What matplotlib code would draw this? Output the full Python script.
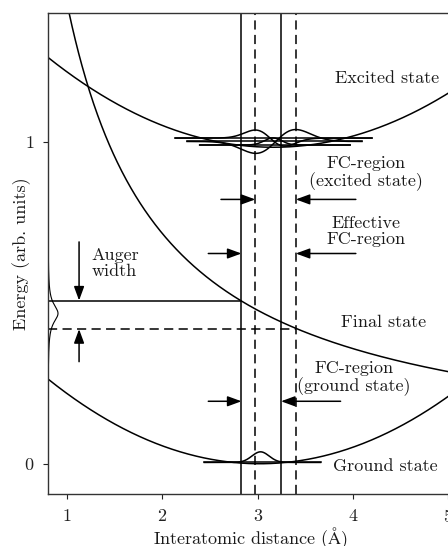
import numpy as np
import matplotlib
matplotlib.use("Agg")
import matplotlib.pyplot as plt

plt.rcParams['font.family'] = ['cmr10', 'DejaVu Serif']
plt.rcParams['mathtext.fontset'] = 'cm'
plt.rcParams['axes.formatter.use_mathtext'] = True

# ---- values ----
x_ticks = [1, 2, 3, 4, 5]
y_ticks = [0, 1]

# potential curves: (position of minimum, energy of minimum, curvature)
ground_curve = [3.02, 0.0, 0.0534]
excited_curve = [3.165, 0.983, 0.0499]
final_curve_coef = 1.43            # final state ~ coef / r

# vibrational levels: energy, x start, x end
ground_level = [0.004, 2.44, 3.66]
excited_levels_e = [1.0115, 1.001, 0.990]
excited_levels_x0 = [2.136, 2.259, 2.391]
excited_levels_x1 = [4.199, 4.094, 3.971]
# wavefunction shapes: centre, width, amplitude, kind
excited_wf_c = [3.13, 3.19, 3.16]
excited_wf_w = [0.155, 0.21, 0.09]
excited_wf_a = [-0.025, 0.037, 0.022]
excited_wf_kind = ['odd', 'odd', 'even']
ground_wf = [3.03, 0.09, 0.033]     # centre, width, amplitude

# Franck-Condon boundaries
fc_ground = [2.83, 3.245]          # solid
fc_excited = [2.975, 3.40]         # dashed

# Auger width
auger_upper = 0.507
auger_lower = 0.418
auger_profile = [0.467, 0.034, 0.105]   # centre, half width, height

# ---- figure ----
fig = plt.figure(figsize=(4.48, 5.46), dpi=100)
ax = fig.add_axes([48 / 448, 52 / 546, 406 / 448, 481 / 546])
ax.set_xlim(0.8, 5.06)
ax.set_ylim(-0.094, 1.40)

lw = 1.1
col = 'black'
r = np.linspace(0.8, 5.06, 600)

# potentials
gc, ge, gk = ground_curve
ax.plot(r, ge + gk * (r - gc) ** 2, color=col, lw=lw)
ec, ee, ek = excited_curve
ax.plot(r, ee + ek * (r - ec) ** 2, color=col, lw=lw)
rf = np.linspace(0.95, 5.06, 600)
ax.plot(rf, final_curve_coef / rf, color=col, lw=lw)

# vertical FC lines
for xv in fc_ground:
    ax.axvline(xv, color=col, lw=lw)
for xv in fc_excited:
    ax.axvline(xv, color=col, lw=lw, dashes=(6, 3.5))

# Auger lines
ax.plot([0.8, fc_ground[0]], [auger_upper, auger_upper], color=col, lw=lw)
ax.plot([0.8, fc_excited[1]], [auger_lower, auger_lower], color=col, lw=lw,
        dashes=(6, 3.5))

# Auger profile along the axis
yy = np.linspace(-0.09, 1.39, 800)
c0, g0, h0 = auger_profile
ax.plot(0.8 + h0 / (1 + ((yy - c0) / g0) ** 2), yy, color=col, lw=0.8)

# ground level + wavefunction
e0, a0, b0 = ground_level
ax.plot([a0, b0], [e0, e0], color=col, lw=lw)
xw = np.linspace(a0, b0, 300)
wc, ww, wa = ground_wf
ax.plot(xw, e0 + wa * np.exp(-((xw - wc) / ww) ** 2 / 2), color=col, lw=lw)

# excited levels + wavefunctions
for e, x0, x1, c, w, a, kind in zip(excited_levels_e, excited_levels_x0,
                                    excited_levels_x1, excited_wf_c,
                                    excited_wf_w, excited_wf_a, excited_wf_kind):
    ax.plot([x0, x1], [e, e], color=col, lw=lw)
    xw = np.linspace(x0, x1, 400)
    u = (xw - c) / w
    if kind == 'odd':
        psi = a * u * np.exp((1 - u ** 2) / 2)
    else:
        psi = a * np.exp(-u ** 2 / 2)
    ax.plot(xw, e + psi, color=col, lw=lw)

# arrows
def arrow(x0, y0, x1, y1):
    ax.annotate('', xy=(x1, y1), xytext=(x0, y0),
                arrowprops=dict(arrowstyle='-|>,head_length=0.6,head_width=0.22',
                                color=col, lw=lw, shrinkA=0, shrinkB=0,
                                mutation_scale=14))

arrow(2.615, 0.821, fc_excited[0], 0.821)
arrow(4.03, 0.821, fc_excited[1], 0.821)
arrow(2.482, 0.653, fc_ground[0], 0.653)
arrow(4.03, 0.653, fc_excited[1], 0.653)
arrow(2.482, 0.194, fc_ground[0], 0.194)
arrow(3.87, 0.194, fc_ground[1], 0.194)
arrow(1.126, 0.689, 1.126, auger_upper)
arrow(1.126, 0.317, 1.126, auger_lower)

fs = 13
tc = '#1a1a1a'
ax.text(4.36, 1.198, 'Excited state', ha='center', va='center', fontsize=fs, color=tc)
ax.text(4.136, 0.902, 'FC-region\n(excited state)', ha='center', va='center',
        fontsize=fs, color=tc, linespacing=1.05)
ax.text(4.14, 0.722, 'Effective\nFC-region', ha='center', va='center',
        fontsize=fs, color=tc, linespacing=1.05)
ax.text(4.32, 0.439, 'Final state', ha='center', va='center', fontsize=fs, color=tc)
ax.text(4.01, 0.265, 'FC-region\n(ground state)', ha='center', va='center',
        fontsize=fs, color=tc, linespacing=1.05)
ax.text(4.34, -0.008, 'Ground state', ha='center', va='center', fontsize=fs, color=tc)
ax.text(1.255, 0.623, 'Auger\nwidth', ha='left', va='center', fontsize=fs,
        color=tc, linespacing=1.05)

ax.set_xticks(x_ticks)
ax.set_yticks(y_ticks)
ax.tick_params(direction='out', length=3.5, width=0.8, labelsize=fs, pad=6.5,
               colors='#222222')
for s in ax.spines.values():
    s.set_linewidth(1.0)
    s.set_color('#333333')

ax.set_xlabel(r'Interatomic distance ($\mathrm{\AA}$)', fontsize=fs, labelpad=0,
              color=tc)
ax.set_ylabel('Energy (arb. units)', fontsize=fs, labelpad=-5, color=tc)

fig.savefig('out.png', dpi=100)
